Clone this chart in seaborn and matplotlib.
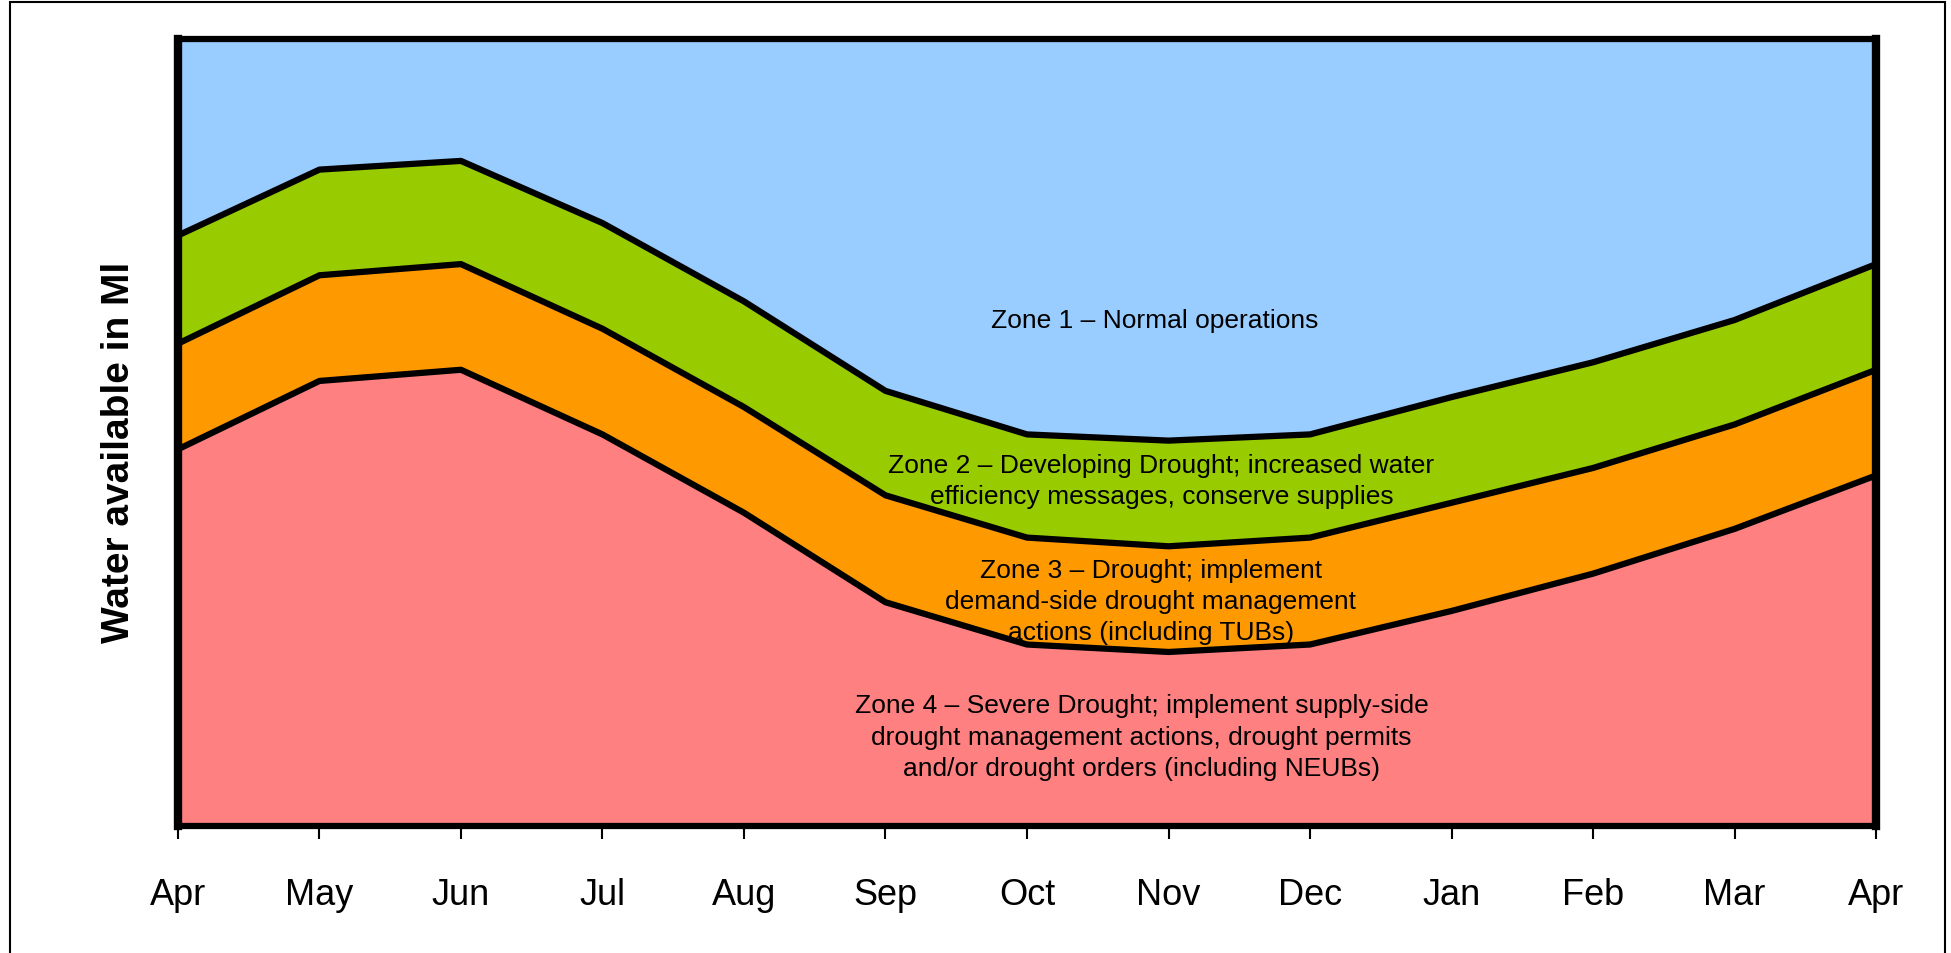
import numpy as np
import pandas as pd
import matplotlib.pyplot as plt
import seaborn as sns
from matplotlib.patches import Rectangle

# month axis (financial year Apr -> Apr)
months = ['Apr', 'May', 'Jun', 'Jul', 'Aug', 'Sep', 'Oct', 'Nov', 'Dec', 'Jan', 'Feb', 'Mar', 'Apr']

# trigger curves (arbitrary Ml units)
zone1_lower = [475, 528, 535, 485, 422, 350, 315, 310, 315, 345, 373, 407, 452]
zone2_lower = [388, 443, 452, 400, 337, 266, 232, 225, 232, 260, 288, 323, 367]
zone3_lower = [303, 358, 367, 315, 252, 180, 146, 140, 146, 173, 203, 239, 282]
y_top = 633

zone_labels = [
    'Zone 1 – Normal operations',
    'Zone 2 – Developing Drought; increased water\nefficiency messages, conserve supplies',
    'Zone 3 – Drought; implement\ndemand-side drought management\nactions (including TUBs)',
    'Zone 4 – Severe Drought; implement supply-side\ndrought management actions, drought permits\nand/or drought orders (including NEUBs)',
]
label_x = [6.90, 6.95, 6.875, 6.81]
label_y = [407, 278, 181, 72]

sns.set_theme(style='white')
plt.rcParams['font.family'] = ['Liberation Sans', 'DejaVu Sans']
plt.rcParams['text.color'] = 'black'
plt.rcParams['axes.labelcolor'] = 'black'
plt.rcParams['xtick.color'] = 'black'

fig = plt.figure(figsize=(19.51, 9.54), dpi=100)
ax = fig.add_axes([0.0912, 0.1331, 0.8704, 0.8249])

x = np.arange(len(months))
ax.fill_between(x, 0, zone3_lower, color='#FF8080', lw=0)
ax.fill_between(x, zone3_lower, zone2_lower, color='#FF9900', lw=0)
ax.fill_between(x, zone2_lower, zone1_lower, color='#99CC00', lw=0)
ax.fill_between(x, zone1_lower, y_top, color='#99CCFF', lw=0)

lines = pd.DataFrame({'x': x, 'z1': zone1_lower, 'z2': zone2_lower, 'z3': zone3_lower})
for col in ['z1', 'z2', 'z3']:
    sns.lineplot(data=lines, x='x', y=col, color='black', lw=4.5, ax=ax)

for tx, ty, t in zip(label_x, label_y, zone_labels):
    ax.text(tx, ty, t, ha='center', va='center', fontsize=19,
            linespacing=1.38, color='black')

ax.set_xlim(0, 12)
ax.set_ylim(0, y_top)
ax.set_xticks(x)
ax.set_xticklabels(months, fontsize=26, color='black')
ax.set_yticks([])
ax.set_xlabel('')
ax.set_ylabel('Water available in Ml', fontsize=28, fontweight='bold',
              color='black')
ax.yaxis.set_label_coords(-0.024, 0.476)
ax.tick_params(axis='x', bottom=True, direction='out', length=9, width=1.5,
               color='black', pad=28)

for name, s in ax.spines.items():
    s.set_color('black')
    s.set_linewidth(6 if name in ('left', 'right') else 4.5)

fig.add_artist(Rectangle((10 / 1951, -0.01), 1935 / 1951, 951 / 954 + 0.01,
                         transform=fig.transFigure, fill=False, lw=1.5,
                         ec='black'))

fig.savefig('out.png', dpi=100)
